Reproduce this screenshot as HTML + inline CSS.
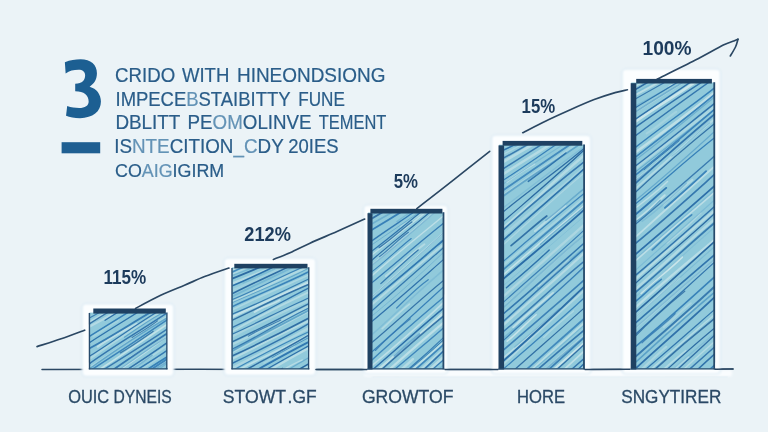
<!DOCTYPE html>
<html><head><meta charset="utf-8"><title>Chart</title>
<style>
html,body{margin:0;padding:0;background:#ebf3f7;}
body{width:768px;height:432px;overflow:hidden;position:relative;font-family:"Liberation Sans",sans-serif;}
svg{position:absolute;left:0;top:0;display:block}
text{font-family:"Liberation Sans",sans-serif;}
</style></head><body>
<svg width="768" height="432" viewBox="0 0 768 432">
<defs>
<filter id="soft" x="-5%" y="-5%" width="110%" height="110%"><feGaussianBlur stdDeviation="0.4"/></filter>
<filter id="halo" x="-20%" y="-20%" width="140%" height="140%"><feGaussianBlur stdDeviation="0.8"/></filter>
<filter id="tb" x="-5%" y="-20%" width="110%" height="140%"><feGaussianBlur stdDeviation="0.35"/></filter>

<clipPath id="c0"><rect x="89.9" y="313.1" width="76.8" height="55.3"/></clipPath>
<clipPath id="c1"><rect x="232.5" y="267.9" width="76.0" height="100.5"/></clipPath>
<clipPath id="c2"><rect x="372.2" y="213.0" width="71.3" height="155.4"/></clipPath>
<clipPath id="c3"><rect x="503.8" y="145.2" width="80.3" height="223.2"/></clipPath>
<clipPath id="c4"><rect x="636.0" y="83.0" width="78.3" height="285.4"/></clipPath>
</defs>
<rect width="768" height="432" fill="#ebf3f7"/>
<path d="M42 369.5 L200 369.3 L400 369.6 L600 369.4 L733 369.1" stroke="#2b4763" stroke-width="1.5" fill="none" stroke-linecap="round"/>
<rect x="364" y="370" width="368" height="6.5" rx="2" fill="#f9fcfe" filter="url(#halo)"/>
<path d="M372 377.3 L728 377" stroke="#d3e6f1" stroke-width="0.9" opacity="0.8" fill="none" filter="url(#halo)"/>
<rect x="82" y="303.8" width="92.0" height="72.7" rx="4" fill="#fcfeff" stroke="#d3e6f2" stroke-width="1.1" filter="url(#halo)"/>
<rect x="224" y="258" width="92.0" height="117.5" rx="4" fill="#fcfeff" stroke="#d3e6f2" stroke-width="1.1" filter="url(#halo)"/>
<rect x="363.5" y="205" width="84.5" height="169.0" rx="4" fill="#fcfeff" stroke="#d3e6f2" stroke-width="1.1" filter="url(#halo)"/>
<rect x="491.5" y="135" width="99.5" height="239.0" rx="4" fill="#fcfeff" stroke="#d3e6f2" stroke-width="1.1" filter="url(#halo)"/>
<rect x="622" y="69" width="98.5" height="305.0" rx="4" fill="#fcfeff" stroke="#d3e6f2" stroke-width="1.1" filter="url(#halo)"/>
<path d="M316 369.4 L367 369.5 M445 369.5 L498 369.4 M585 369.4 L630 369.3 M715 369.2 L733 369.1" stroke="#2b4763" stroke-width="1.5" fill="none" stroke-linecap="round"/>
<path d="M37.0 346.6 C41.0 345.3 53.3 341.5 61.2 338.8 C69.2 336.1 80.8 331.6 84.7 330.2" stroke="#2b4763" stroke-width="1.65" fill="none" stroke-linecap="round" filter="url(#tb)"/>
<path d="M135.5 308.4 C139.6 306.2 152.0 299.4 160.2 295.5 C168.4 291.6 177.1 288.3 184.5 285.2 C191.9 282.1 197.2 279.5 204.6 276.6 C212.0 273.7 224.9 269.4 229.0 268.0" stroke="#2b4763" stroke-width="1.65" fill="none" stroke-linecap="round" filter="url(#tb)"/>
<path d="M273.4 259.4 C276.2 258.3 283.9 255.5 290.0 252.8 C296.1 250.1 302.2 246.8 310.0 243.2 C317.8 239.6 327.9 235.5 337.0 231.5 C346.1 227.5 360.1 221.1 364.7 219.0" stroke="#2b4763" stroke-width="1.65" fill="none" stroke-linecap="round" filter="url(#tb)"/>
<path d="M416.8 208.6 C422.9 203.9 441.2 189.8 453.3 180.2 C465.4 170.6 483.6 156.1 489.7 151.3" stroke="#2b4763" stroke-width="1.65" fill="none" stroke-linecap="round" filter="url(#tb)"/>
<path d="M522.7 132.7 C526.5 130.8 537.5 125.0 545.4 121.2 C553.2 117.4 561.7 113.6 569.8 110.0 C577.9 106.4 586.7 102.5 594.2 99.6 C601.8 96.7 609.6 94.2 615.1 92.6 C620.6 91.0 625.4 90.3 627.4 89.8" stroke="#2b4763" stroke-width="1.65" fill="none" stroke-linecap="round" filter="url(#tb)"/>
<path d="M657.0 79.3 C663.4 76.1 684.4 65.8 695.4 60.1 C706.4 54.4 716.9 48.3 723.3 45.1 C729.7 41.9 731.3 42.0 733.8 41.0 C736.2 40.0 737.3 39.5 738.0 39.2" stroke="#2b4763" stroke-width="1.65" fill="none" stroke-linecap="round" filter="url(#tb)"/>
<path d="M738.0 39.2 C737.6 40.5 736.8 44.2 735.5 47.0 C734.2 49.8 731.2 54.5 730.3 56.0" stroke="#2b4763" stroke-width="1.65" fill="none" stroke-linecap="round" filter="url(#tb)"/>
<rect x="89.3" y="312.6" width="77.8" height="56.6" fill="#91cadb"/>
<g clip-path="url(#c0)" filter="url(#soft)">
<path d="M87.8 312.2 C114.5 296.7 141.9 281.5 168.6 265.6" stroke="#2b70aa" stroke-width="1.78" opacity="0.88" fill="none" stroke-linecap="round"/>
<path d="M87.8 322.9 C114.5 308.5 141.9 292.1 168.6 276.0" stroke="#c9e5ea" stroke-width="2.03" opacity="0.59" fill="none" stroke-linecap="round"/>
<path d="M87.8 319.1 C114.5 304.0 141.9 288.9 168.6 272.2" stroke="#2b70aa" stroke-width="1.15" opacity="0.86" fill="none" stroke-linecap="round"/>
<path d="M87.8 327.5 C114.5 313.7 141.9 297.4 168.6 279.3" stroke="#c9e5ea" stroke-width="2.13" opacity="0.61" fill="none" stroke-linecap="round"/>
<path d="M87.8 324.9 C114.5 307.2 141.9 293.9 168.6 276.8" stroke="#27669f" stroke-width="1.35" opacity="0.88" fill="none" stroke-linecap="round"/>
<path d="M105.1 320.3 C118.4 311.7 132.1 303.8 145.5 295.2" stroke="#2a6da8" stroke-width="1.27" opacity="0.99" fill="none" stroke-linecap="round"/>
<path d="M93.2 336.1 C101.4 332.3 110.0 324.4 118.2 320.7" stroke="#b4dae3" stroke-width="2.26" opacity="0.49" fill="none" stroke-linecap="round"/>
<path d="M87.8 337.4 C114.5 320.7 141.9 303.7 168.6 287.9" stroke="#3680b8" stroke-width="1.51" opacity="1.00" fill="none" stroke-linecap="round"/>
<path d="M87.8 343.8 C114.5 326.2 141.9 310.7 168.6 292.0" stroke="#2b70aa" stroke-width="1.34" opacity="0.98" fill="none" stroke-linecap="round"/>
<path d="M97.8 346.6 C110.6 337.0 123.8 330.9 136.5 324.0" stroke="#d8ecee" stroke-width="2.36" opacity="0.59" fill="none" stroke-linecap="round"/>
<path d="M87.8 349.2 C114.5 335.3 141.9 316.2 168.6 302.1" stroke="#2f76b0" stroke-width="1.87" opacity="0.92" fill="none" stroke-linecap="round"/>
<path d="M87.8 360.1 C114.5 341.0 141.9 323.1 168.6 307.8" stroke="#bfe0e6" stroke-width="2.16" opacity="0.59" fill="none" stroke-linecap="round"/>
<path d="M124.5 337.3 C137.0 328.4 149.8 319.5 162.2 312.9" stroke="#4f98c3" stroke-width="1.11" opacity="0.75" fill="none" stroke-linecap="round"/>
<path d="M87.8 357.3 C114.5 340.5 141.9 320.3 168.6 305.0" stroke="#2a6da8" stroke-width="1.20" opacity="0.92" fill="none" stroke-linecap="round"/>
<path d="M87.8 368.2 C114.5 351.1 141.9 331.2 168.6 315.3" stroke="#bfe0e6" stroke-width="1.28" opacity="0.51" fill="none" stroke-linecap="round"/>
<path d="M87.8 370.0 C114.5 350.9 141.9 332.5 168.6 317.1" stroke="#4f98c3" stroke-width="1.49" opacity="0.74" fill="none" stroke-linecap="round"/>
<path d="M87.8 364.8 C114.5 345.3 141.9 329.8 168.6 311.9" stroke="#2a6da8" stroke-width="1.48" opacity="0.90" fill="none" stroke-linecap="round"/>
<path d="M132.1 337.5 C140.5 332.2 149.1 327.4 157.5 320.8" stroke="#27669f" stroke-width="1.03" opacity="0.80" fill="none" stroke-linecap="round"/>
<path d="M87.8 376.7 C114.5 360.8 141.9 340.6 168.6 323.4" stroke="#d8ecee" stroke-width="1.69" opacity="0.69" fill="none" stroke-linecap="round"/>
<path d="M87.8 372.2 C114.5 355.0 141.9 336.9 168.6 318.8" stroke="#3680b8" stroke-width="1.56" opacity="0.94" fill="none" stroke-linecap="round"/>
<path d="M120.4 352.9 C131.2 346.8 142.4 338.8 153.2 331.3" stroke="#27669f" stroke-width="1.25" opacity="0.80" fill="none" stroke-linecap="round"/>
<path d="M130.3 357.1 C139.0 352.8 147.9 346.6 156.6 340.4" stroke="#c9e5ea" stroke-width="1.63" opacity="0.48" fill="none" stroke-linecap="round"/>
<path d="M87.8 379.5 C114.5 362.7 141.9 346.3 168.6 328.2" stroke="#2a6da8" stroke-width="1.39" opacity="0.87" fill="none" stroke-linecap="round"/>
<path d="M87.8 390.3 C114.5 374.1 141.9 355.4 168.6 335.7" stroke="#d8ecee" stroke-width="1.48" opacity="0.60" fill="none" stroke-linecap="round"/>
<path d="M87.8 390.8 C114.5 374.5 141.9 352.2 168.6 336.2" stroke="#4f98c3" stroke-width="1.09" opacity="0.55" fill="none" stroke-linecap="round"/>
<path d="M87.8 387.2 C114.5 368.9 141.9 349.6 168.6 332.5" stroke="#2a6da8" stroke-width="1.86" opacity="0.89" fill="none" stroke-linecap="round"/>
<path d="M87.8 396.9 C114.5 380.1 141.9 362.7 168.6 344.7" stroke="#b4dae3" stroke-width="1.65" opacity="0.74" fill="none" stroke-linecap="round"/>
<path d="M122.1 374.7 C132.0 369.6 142.2 363.1 152.1 355.4" stroke="#5ea4ca" stroke-width="1.48" opacity="0.64" fill="none" stroke-linecap="round"/>
<path d="M87.8 393.9 C114.5 378.0 141.9 360.9 168.6 341.7" stroke="#2a6da8" stroke-width="1.46" opacity="0.94" fill="none" stroke-linecap="round"/>
<path d="M122.5 380.8 C134.6 375.1 146.9 365.3 158.9 357.6" stroke="#b4dae3" stroke-width="1.95" opacity="0.46" fill="none" stroke-linecap="round"/>
<path d="M87.8 400.9 C114.5 382.1 141.9 368.3 168.6 349.4" stroke="#2f76b0" stroke-width="1.41" opacity="0.97" fill="none" stroke-linecap="round"/>
<path d="M87.8 412.0 C114.5 396.4 141.9 376.8 168.6 360.4" stroke="#b4dae3" stroke-width="1.97" opacity="0.68" fill="none" stroke-linecap="round"/>
<path d="M87.8 412.5 C114.5 396.5 141.9 376.7 168.6 361.0" stroke="#5ea4ca" stroke-width="1.55" opacity="0.79" fill="none" stroke-linecap="round"/>
<path d="M87.8 407.6 C114.5 391.9 141.9 372.3 168.6 356.0" stroke="#3680b8" stroke-width="1.88" opacity="1.00" fill="none" stroke-linecap="round"/>
<path d="M123.9 392.3 C132.2 387.8 140.7 379.1 149.0 374.8" stroke="#b4dae3" stroke-width="2.28" opacity="0.62" fill="none" stroke-linecap="round"/>
<path d="M87.8 418.4 C114.5 400.0 141.9 381.6 168.6 362.2" stroke="#6bafd0" stroke-width="1.32" opacity="0.85" fill="none" stroke-linecap="round"/>
<path d="M87.8 414.3 C114.5 393.9 141.9 375.4 168.6 358.1" stroke="#3680b8" stroke-width="1.86" opacity="0.92" fill="none" stroke-linecap="round"/>
<path d="M87.8 424.4 C114.5 408.5 141.9 387.3 168.6 370.9" stroke="#d8ecee" stroke-width="1.64" opacity="0.58" fill="none" stroke-linecap="round"/>
<path d="M87.8 420.6 C114.5 403.2 141.9 384.9 168.6 367.2" stroke="#2b70aa" stroke-width="1.52" opacity="0.94" fill="none" stroke-linecap="round"/>
<path d="M112.1 415.8 C123.2 410.7 134.5 403.2 145.6 394.2" stroke="#c9e5ea" stroke-width="1.89" opacity="0.69" fill="none" stroke-linecap="round"/>
<path d="M87.8 431.8 C114.5 416.4 141.9 396.9 168.6 379.5" stroke="#6bafd0" stroke-width="1.21" opacity="0.82" fill="none" stroke-linecap="round"/>
<path d="M87.8 428.0 C114.5 409.1 141.9 394.2 168.6 375.7" stroke="#2a6da8" stroke-width="1.25" opacity="0.94" fill="none" stroke-linecap="round"/>
<path d="M101.1 421.1 C114.6 411.3 128.4 403.5 141.9 394.8" stroke="#2f76b0" stroke-width="0.90" opacity="0.80" fill="none" stroke-linecap="round"/>
<path d="M116.2 416.6 C130.5 407.4 145.1 397.1 159.4 387.2" stroke="#2f76b0" stroke-width="1.66" opacity="0.98" fill="none" stroke-linecap="round"/>
<path d="M87.8 446.0 C114.5 429.6 141.9 408.2 168.6 390.9" stroke="#bfe0e6" stroke-width="1.53" opacity="0.71" fill="none" stroke-linecap="round"/>
<path d="M127.3 420.2 C136.2 412.4 145.3 407.5 154.1 401.9" stroke="#6bafd0" stroke-width="1.60" opacity="0.57" fill="none" stroke-linecap="round"/>
<path d="M87.8 442.9 C114.5 423.0 141.9 405.5 168.6 387.7" stroke="#3680b8" stroke-width="1.77" opacity="0.91" fill="none" stroke-linecap="round"/>
</g>
<path d="M89.4 313.1 L89.5 369.2" stroke="#274b6d" stroke-width="1.4" fill="none"/>
<rect x="93.3" y="308.5" width="72.5" height="5.1" fill="#1f4162"/>
<path d="M166.9 312.4 L166.8 369.2" stroke="#264a6c" stroke-width="1.3" fill="none"/>
<path d="M88.8 368.9 L167.6 368.9" stroke="#274b6d" stroke-width="1.4" fill="none"/>
<rect x="231.9" y="267.4" width="77.0" height="101.8" fill="#91cadb"/>
<g clip-path="url(#c1)" filter="url(#soft)">
<path d="M230.4 270.8 C256.8 260.1 284.0 249.8 310.4 238.3" stroke="#d8ecee" stroke-width="1.36" opacity="0.63" fill="none" stroke-linecap="round"/>
<path d="M230.4 268.5 C256.8 259.6 284.0 246.7 310.4 236.0" stroke="#5ea4ca" stroke-width="0.92" opacity="0.77" fill="none" stroke-linecap="round"/>
<path d="M230.4 266.8 C256.8 258.2 284.0 246.9 310.4 234.3" stroke="#2f76b0" stroke-width="1.25" opacity="0.88" fill="none" stroke-linecap="round"/>
<path d="M235.5 266.4 C246.3 261.7 257.4 256.9 268.1 253.2" stroke="#3680b8" stroke-width="0.93" opacity="0.80" fill="none" stroke-linecap="round"/>
<path d="M230.4 274.9 C256.8 263.3 284.0 250.8 310.4 241.0" stroke="#bfe0e6" stroke-width="1.45" opacity="0.61" fill="none" stroke-linecap="round"/>
<path d="M230.4 276.1 C256.8 266.6 284.0 255.2 310.4 242.2" stroke="#5ea4ca" stroke-width="1.19" opacity="0.53" fill="none" stroke-linecap="round"/>
<path d="M230.4 272.8 C256.8 261.0 284.0 251.3 310.4 239.0" stroke="#3680b8" stroke-width="1.56" opacity="0.88" fill="none" stroke-linecap="round"/>
<path d="M230.4 284.2 C256.8 274.2 284.0 262.7 310.4 250.4" stroke="#bfe0e6" stroke-width="2.46" opacity="0.76" fill="none" stroke-linecap="round"/>
<path d="M269.5 267.2 C283.0 263.3 296.9 253.7 310.4 250.0" stroke="#5ea4ca" stroke-width="1.62" opacity="0.61" fill="none" stroke-linecap="round"/>
<path d="M230.4 279.3 C256.8 268.8 284.0 256.9 310.4 245.5" stroke="#27669f" stroke-width="1.86" opacity="0.95" fill="none" stroke-linecap="round"/>
<path d="M230.4 291.3 C256.8 280.5 284.0 266.2 310.4 255.4" stroke="#b4dae3" stroke-width="2.57" opacity="0.46" fill="none" stroke-linecap="round"/>
<path d="M243.2 283.1 C253.6 278.6 264.2 273.3 274.6 269.0" stroke="#6bafd0" stroke-width="1.48" opacity="0.50" fill="none" stroke-linecap="round"/>
<path d="M230.4 286.6 C256.8 276.2 284.0 260.7 310.4 250.8" stroke="#2b70aa" stroke-width="1.55" opacity="1.00" fill="none" stroke-linecap="round"/>
<path d="M230.4 297.4 C256.8 284.4 284.0 271.6 310.4 258.9" stroke="#6bafd0" stroke-width="1.67" opacity="0.69" fill="none" stroke-linecap="round"/>
<path d="M230.4 294.7 C256.8 281.0 284.0 269.6 310.4 256.2" stroke="#27669f" stroke-width="1.52" opacity="0.94" fill="none" stroke-linecap="round"/>
<path d="M230.4 302.5 C256.8 291.3 284.0 276.2 310.4 266.2" stroke="#bfe0e6" stroke-width="2.02" opacity="0.67" fill="none" stroke-linecap="round"/>
<path d="M230.4 303.5 C256.8 291.5 284.0 281.3 310.4 267.3" stroke="#4f98c3" stroke-width="0.97" opacity="0.82" fill="none" stroke-linecap="round"/>
<path d="M230.4 300.3 C256.8 290.1 284.0 274.4 310.4 264.0" stroke="#2f76b0" stroke-width="1.14" opacity="0.86" fill="none" stroke-linecap="round"/>
<path d="M230.4 310.9 C256.8 297.2 284.0 286.2 310.4 274.4" stroke="#c9e5ea" stroke-width="1.49" opacity="0.47" fill="none" stroke-linecap="round"/>
<path d="M230.4 307.6 C256.8 294.9 284.0 284.1 310.4 271.0" stroke="#3680b8" stroke-width="1.58" opacity="0.95" fill="none" stroke-linecap="round"/>
<path d="M230.4 317.9 C256.8 304.8 284.0 294.3 310.4 281.4" stroke="#d8ecee" stroke-width="2.30" opacity="0.67" fill="none" stroke-linecap="round"/>
<path d="M230.4 314.8 C256.8 304.8 284.0 290.4 310.4 278.3" stroke="#2b70aa" stroke-width="1.25" opacity="0.89" fill="none" stroke-linecap="round"/>
<path d="M254.6 312.0 C262.9 306.3 271.5 304.9 279.7 300.3" stroke="#d8ecee" stroke-width="1.80" opacity="0.67" fill="none" stroke-linecap="round"/>
<path d="M230.4 321.1 C256.8 308.7 284.0 294.5 310.4 283.8" stroke="#27669f" stroke-width="1.49" opacity="0.90" fill="none" stroke-linecap="round"/>
<path d="M230.4 332.5 C256.8 317.4 284.0 303.4 310.4 291.3" stroke="#bfe0e6" stroke-width="1.82" opacity="0.71" fill="none" stroke-linecap="round"/>
<path d="M230.4 328.3 C256.8 316.6 284.0 300.4 310.4 287.1" stroke="#2b70aa" stroke-width="1.36" opacity="0.93" fill="none" stroke-linecap="round"/>
<path d="M230.4 337.4 C256.8 322.8 284.0 311.4 310.4 299.7" stroke="#b4dae3" stroke-width="2.34" opacity="0.61" fill="none" stroke-linecap="round"/>
<path d="M230.4 334.9 C256.8 323.3 284.0 308.7 310.4 297.2" stroke="#2b70aa" stroke-width="1.17" opacity="0.90" fill="none" stroke-linecap="round"/>
<path d="M230.4 345.1 C256.8 333.8 284.0 318.3 310.4 305.4" stroke="#b4dae3" stroke-width="2.00" opacity="0.77" fill="none" stroke-linecap="round"/>
<path d="M230.4 342.6 C256.8 330.5 284.0 316.1 310.4 302.9" stroke="#27669f" stroke-width="1.47" opacity="0.88" fill="none" stroke-linecap="round"/>
<path d="M248.4 336.1 C259.1 329.4 270.1 325.6 280.8 320.0" stroke="#2a6da8" stroke-width="1.05" opacity="0.80" fill="none" stroke-linecap="round"/>
<path d="M230.4 353.5 C256.8 340.8 284.0 323.7 310.4 310.8" stroke="#bfe0e6" stroke-width="1.33" opacity="0.61" fill="none" stroke-linecap="round"/>
<path d="M230.4 352.2 C256.8 336.2 284.0 323.8 310.4 309.5" stroke="#4f98c3" stroke-width="1.77" opacity="0.73" fill="none" stroke-linecap="round"/>
<path d="M230.4 350.0 C256.8 337.6 284.0 319.5 310.4 307.2" stroke="#2b70aa" stroke-width="1.17" opacity="0.86" fill="none" stroke-linecap="round"/>
<path d="M230.4 359.7 C256.8 346.5 284.0 332.5 310.4 320.2" stroke="#bfe0e6" stroke-width="1.88" opacity="0.77" fill="none" stroke-linecap="round"/>
<path d="M230.4 356.8 C256.8 344.7 284.0 331.2 310.4 317.2" stroke="#27669f" stroke-width="1.64" opacity="0.92" fill="none" stroke-linecap="round"/>
<path d="M230.4 369.0 C256.8 355.9 284.0 341.3 310.4 327.4" stroke="#b4dae3" stroke-width="2.37" opacity="0.76" fill="none" stroke-linecap="round"/>
<path d="M230.4 364.2 C256.8 351.5 284.0 338.5 310.4 322.6" stroke="#2a6da8" stroke-width="1.44" opacity="0.91" fill="none" stroke-linecap="round"/>
<path d="M230.4 374.2 C256.8 359.3 284.0 348.8 310.4 333.5" stroke="#c9e5ea" stroke-width="1.86" opacity="0.71" fill="none" stroke-linecap="round"/>
<path d="M230.4 371.7 C256.8 357.4 284.0 343.1 310.4 331.0" stroke="#3680b8" stroke-width="1.11" opacity="0.92" fill="none" stroke-linecap="round"/>
<path d="M263.9 363.0 C274.0 357.7 284.5 353.3 294.6 346.3" stroke="#b4dae3" stroke-width="1.46" opacity="0.55" fill="none" stroke-linecap="round"/>
<path d="M230.4 377.8 C256.8 364.1 284.0 349.8 310.4 334.2" stroke="#27669f" stroke-width="1.49" opacity="0.91" fill="none" stroke-linecap="round"/>
<path d="M272.0 357.6 C284.7 350.2 297.7 343.7 310.4 336.7" stroke="#3680b8" stroke-width="0.92" opacity="0.80" fill="none" stroke-linecap="round"/>
<path d="M230.4 384.8 C256.8 370.1 284.0 354.4 310.4 341.1" stroke="#2f76b0" stroke-width="1.81" opacity="0.98" fill="none" stroke-linecap="round"/>
<path d="M230.4 393.3 C256.8 378.3 284.0 360.9 310.4 347.2" stroke="#bfe0e6" stroke-width="2.09" opacity="0.80" fill="none" stroke-linecap="round"/>
<path d="M230.4 391.0 C256.8 374.1 284.0 359.4 310.4 344.9" stroke="#2a6da8" stroke-width="1.26" opacity="0.99" fill="none" stroke-linecap="round"/>
<path d="M260.7 383.2 C274.4 375.2 288.6 365.6 302.4 359.9" stroke="#d8ecee" stroke-width="1.23" opacity="0.52" fill="none" stroke-linecap="round"/>
<path d="M230.4 401.3 C256.8 388.8 284.0 372.2 310.4 356.7" stroke="#4f98c3" stroke-width="1.18" opacity="0.64" fill="none" stroke-linecap="round"/>
<path d="M248.3 387.5 C259.6 383.3 271.2 376.2 282.5 368.4" stroke="#2a6da8" stroke-width="1.39" opacity="0.95" fill="none" stroke-linecap="round"/>
<path d="M230.4 407.7 C256.8 395.1 284.0 378.1 310.4 365.4" stroke="#c9e5ea" stroke-width="1.84" opacity="0.45" fill="none" stroke-linecap="round"/>
<path d="M230.4 405.2 C256.8 393.2 284.0 378.0 310.4 362.9" stroke="#27669f" stroke-width="1.60" opacity="0.99" fill="none" stroke-linecap="round"/>
<path d="M230.4 413.7 C256.8 398.7 284.0 386.2 310.4 370.5" stroke="#d8ecee" stroke-width="2.52" opacity="0.65" fill="none" stroke-linecap="round"/>
<path d="M239.7 408.5 C247.7 404.1 255.9 400.7 263.9 395.5" stroke="#5ea4ca" stroke-width="1.02" opacity="0.72" fill="none" stroke-linecap="round"/>
<path d="M230.4 411.6 C256.8 397.0 284.0 380.8 310.4 368.5" stroke="#2a6da8" stroke-width="1.28" opacity="0.87" fill="none" stroke-linecap="round"/>
<path d="M230.4 421.8 C256.8 407.7 284.0 391.8 310.4 376.2" stroke="#b4dae3" stroke-width="1.88" opacity="0.77" fill="none" stroke-linecap="round"/>
<path d="M245.6 413.4 C256.0 408.1 266.6 399.7 277.0 395.5" stroke="#6bafd0" stroke-width="1.49" opacity="0.71" fill="none" stroke-linecap="round"/>
<path d="M230.4 417.6 C256.8 400.9 284.0 388.1 310.4 372.1" stroke="#3680b8" stroke-width="1.26" opacity="0.90" fill="none" stroke-linecap="round"/>
<path d="M230.4 427.8 C256.8 414.6 284.0 397.5 310.4 381.2" stroke="#bfe0e6" stroke-width="2.00" opacity="0.52" fill="none" stroke-linecap="round"/>
<path d="M230.4 424.4 C256.8 407.2 284.0 392.1 310.4 377.8" stroke="#2b70aa" stroke-width="1.86" opacity="0.94" fill="none" stroke-linecap="round"/>
<path d="M255.8 418.6 C267.8 409.6 280.1 406.1 292.0 397.2" stroke="#5ea4ca" stroke-width="1.31" opacity="0.76" fill="none" stroke-linecap="round"/>
<path d="M230.4 430.7 C256.8 415.5 284.0 397.2 310.4 383.2" stroke="#2f76b0" stroke-width="1.83" opacity="1.00" fill="none" stroke-linecap="round"/>
<path d="M232.8 439.7 C241.9 436.7 251.3 431.2 260.4 424.1" stroke="#bfe0e6" stroke-width="1.46" opacity="0.64" fill="none" stroke-linecap="round"/>
<path d="M230.4 437.0 C256.8 422.6 284.0 407.3 310.4 391.8" stroke="#27669f" stroke-width="1.70" opacity="0.98" fill="none" stroke-linecap="round"/>
</g>
<path d="M232.0 267.9 L232.1 369.2" stroke="#274b6d" stroke-width="1.4" fill="none"/>
<rect x="234.3" y="263.8" width="73.2" height="4.6" fill="#1f4162"/>
<path d="M308.8 267.2 L308.6 369.2" stroke="#264a6c" stroke-width="1.3" fill="none"/>
<path d="M231.4 368.9 L309.4 368.9" stroke="#274b6d" stroke-width="1.4" fill="none"/>
<rect x="368.0" y="212.5" width="75.9" height="156.7" fill="#91cadb"/>
<g clip-path="url(#c2)" filter="url(#soft)">
<path d="M366.5 216.9 C392.5 203.5 419.4 192.0 445.4 179.3" stroke="#c9e5ea" stroke-width="2.00" opacity="0.51" fill="none" stroke-linecap="round"/>
<path d="M366.5 217.5 C392.5 205.1 419.4 190.6 445.4 179.9" stroke="#5ea4ca" stroke-width="1.55" opacity="0.78" fill="none" stroke-linecap="round"/>
<path d="M366.5 212.0 C392.5 200.7 419.4 187.9 445.4 174.4" stroke="#27669f" stroke-width="1.43" opacity="0.94" fill="none" stroke-linecap="round"/>
<path d="M366.5 227.0 C392.5 211.6 419.4 198.1 445.4 181.2" stroke="#5ea4ca" stroke-width="1.71" opacity="0.68" fill="none" stroke-linecap="round"/>
<path d="M366.5 221.7 C392.5 206.3 419.4 190.5 445.4 175.9" stroke="#27669f" stroke-width="1.83" opacity="0.89" fill="none" stroke-linecap="round"/>
<path d="M396.9 221.6 C408.5 213.0 420.5 205.7 432.1 199.2" stroke="#6bafd0" stroke-width="1.35" opacity="0.64" fill="none" stroke-linecap="round"/>
<path d="M366.5 233.1 C392.5 217.6 419.4 201.2 445.4 183.0" stroke="#3680b8" stroke-width="1.85" opacity="0.98" fill="none" stroke-linecap="round"/>
<path d="M401.0 226.7 C409.6 221.0 418.4 216.7 426.9 208.8" stroke="#b4dae3" stroke-width="1.99" opacity="0.77" fill="none" stroke-linecap="round"/>
<path d="M366.5 248.5 C392.5 230.4 419.4 212.3 445.4 194.2" stroke="#4f98c3" stroke-width="0.92" opacity="0.56" fill="none" stroke-linecap="round"/>
<path d="M368.8 243.1 C383.3 232.3 398.2 222.9 412.6 213.0" stroke="#2f76b0" stroke-width="1.39" opacity="0.94" fill="none" stroke-linecap="round"/>
<path d="M366.5 259.2 C392.5 238.7 419.4 216.5 445.4 197.5" stroke="#c9e5ea" stroke-width="1.47" opacity="0.74" fill="none" stroke-linecap="round"/>
<path d="M366.5 255.1 C392.5 236.4 419.4 211.8 445.4 193.4" stroke="#2b70aa" stroke-width="1.26" opacity="0.94" fill="none" stroke-linecap="round"/>
<path d="M379.1 247.6 C389.9 240.8 401.0 229.7 411.9 222.0" stroke="#27669f" stroke-width="1.28" opacity="0.80" fill="none" stroke-linecap="round"/>
<path d="M366.5 269.1 C392.5 248.2 419.4 224.7 445.4 202.8" stroke="#d8ecee" stroke-width="1.37" opacity="0.69" fill="none" stroke-linecap="round"/>
<path d="M366.5 269.3 C392.5 249.3 419.4 225.6 445.4 203.0" stroke="#5ea4ca" stroke-width="1.43" opacity="0.58" fill="none" stroke-linecap="round"/>
<path d="M366.5 265.0 C392.5 241.3 419.4 222.4 445.4 198.7" stroke="#27669f" stroke-width="1.21" opacity="0.95" fill="none" stroke-linecap="round"/>
<path d="M379.5 256.6 C389.1 249.9 398.9 238.5 408.4 232.3" stroke="#2a6da8" stroke-width="1.14" opacity="0.80" fill="none" stroke-linecap="round"/>
<path d="M366.5 280.7 C392.5 256.7 419.4 236.0 445.4 214.2" stroke="#c9e5ea" stroke-width="1.46" opacity="0.76" fill="none" stroke-linecap="round"/>
<path d="M370.2 273.0 C383.7 263.4 397.7 249.1 411.2 238.5" stroke="#3680b8" stroke-width="1.10" opacity="0.98" fill="none" stroke-linecap="round"/>
<path d="M385.9 276.1 C398.6 265.8 411.7 253.7 424.4 244.3" stroke="#bfe0e6" stroke-width="2.03" opacity="0.72" fill="none" stroke-linecap="round"/>
<path d="M366.5 287.1 C392.5 266.0 419.4 242.3 445.4 221.8" stroke="#2f76b0" stroke-width="1.31" opacity="0.93" fill="none" stroke-linecap="round"/>
<path d="M366.5 301.7 C392.5 278.1 419.4 254.1 445.4 231.0" stroke="#d8ecee" stroke-width="1.41" opacity="0.46" fill="none" stroke-linecap="round"/>
<path d="M366.5 301.7 C392.5 278.7 419.4 255.3 445.4 231.0" stroke="#5ea4ca" stroke-width="1.00" opacity="0.56" fill="none" stroke-linecap="round"/>
<path d="M380.8 283.6 C393.1 272.6 405.9 260.1 418.2 250.0" stroke="#2b70aa" stroke-width="1.22" opacity="0.90" fill="none" stroke-linecap="round"/>
<path d="M366.5 309.1 C392.5 287.1 419.4 264.0 445.4 243.0" stroke="#bfe0e6" stroke-width="1.90" opacity="0.68" fill="none" stroke-linecap="round"/>
<path d="M366.5 304.5 C392.5 283.9 419.4 260.7 445.4 238.5" stroke="#2f76b0" stroke-width="1.66" opacity="0.99" fill="none" stroke-linecap="round"/>
<path d="M366.5 320.4 C392.5 299.3 419.4 275.7 445.4 250.5" stroke="#6bafd0" stroke-width="0.98" opacity="0.69" fill="none" stroke-linecap="round"/>
<path d="M366.5 315.9 C392.5 291.7 419.4 268.8 445.4 245.9" stroke="#2b70aa" stroke-width="1.28" opacity="0.89" fill="none" stroke-linecap="round"/>
<path d="M366.5 325.9 C392.5 304.5 419.4 280.6 445.4 257.9" stroke="#2a6da8" stroke-width="1.23" opacity="0.94" fill="none" stroke-linecap="round"/>
<path d="M382.2 328.7 C391.2 320.8 400.5 310.7 409.5 304.1" stroke="#bfe0e6" stroke-width="1.73" opacity="0.72" fill="none" stroke-linecap="round"/>
<path d="M366.5 339.5 C392.5 316.6 419.4 290.4 445.4 268.4" stroke="#78b8d4" stroke-width="1.58" opacity="0.67" fill="none" stroke-linecap="round"/>
<path d="M396.7 308.0 C407.1 297.7 417.8 286.9 428.2 279.7" stroke="#3680b8" stroke-width="1.26" opacity="0.91" fill="none" stroke-linecap="round"/>
<path d="M366.5 347.0 C392.5 325.8 419.4 299.8 445.4 279.0" stroke="#27669f" stroke-width="1.18" opacity="0.86" fill="none" stroke-linecap="round"/>
<path d="M366.5 356.6 C392.5 334.2 419.4 308.9 445.4 285.2" stroke="#3680b8" stroke-width="1.17" opacity="0.98" fill="none" stroke-linecap="round"/>
<path d="M375.4 350.5 C387.0 338.4 398.8 328.0 410.4 318.9" stroke="#2f76b0" stroke-width="1.10" opacity="0.80" fill="none" stroke-linecap="round"/>
<path d="M366.5 370.1 C392.5 348.9 419.4 325.2 445.4 300.9" stroke="#d8ecee" stroke-width="1.64" opacity="0.61" fill="none" stroke-linecap="round"/>
<path d="M366.5 365.0 C392.5 341.0 419.4 317.8 445.4 295.8" stroke="#3680b8" stroke-width="1.42" opacity="0.91" fill="none" stroke-linecap="round"/>
<path d="M366.5 379.4 C392.5 357.6 419.4 335.5 445.4 311.1" stroke="#c9e5ea" stroke-width="2.33" opacity="0.79" fill="none" stroke-linecap="round"/>
<path d="M394.3 355.8 C402.5 348.2 411.1 340.7 419.4 334.0" stroke="#5ea4ca" stroke-width="1.76" opacity="0.80" fill="none" stroke-linecap="round"/>
<path d="M366.5 374.9 C392.5 353.3 419.4 327.9 445.4 306.6" stroke="#2a6da8" stroke-width="1.49" opacity="0.99" fill="none" stroke-linecap="round"/>
<path d="M366.5 389.6 C392.5 366.9 419.4 342.7 445.4 321.1" stroke="#c9e5ea" stroke-width="2.24" opacity="0.77" fill="none" stroke-linecap="round"/>
<path d="M366.5 383.1 C392.5 359.9 419.4 335.3 445.4 314.7" stroke="#27669f" stroke-width="1.66" opacity="0.85" fill="none" stroke-linecap="round"/>
<path d="M381.2 386.4 C391.6 376.5 402.4 369.5 412.9 359.1" stroke="#d8ecee" stroke-width="2.44" opacity="0.48" fill="none" stroke-linecap="round"/>
<path d="M366.5 394.2 C392.5 369.7 419.4 349.6 445.4 326.3" stroke="#3680b8" stroke-width="1.41" opacity="0.90" fill="none" stroke-linecap="round"/>
<path d="M366.5 408.6 C392.5 385.6 419.4 364.7 445.4 340.4" stroke="#c9e5ea" stroke-width="1.59" opacity="0.74" fill="none" stroke-linecap="round"/>
<path d="M366.5 406.8 C392.5 382.7 419.4 359.7 445.4 338.5" stroke="#4f98c3" stroke-width="1.18" opacity="0.63" fill="none" stroke-linecap="round"/>
<path d="M366.5 404.2 C392.5 383.5 419.4 360.6 445.4 335.9" stroke="#2f76b0" stroke-width="1.31" opacity="0.88" fill="none" stroke-linecap="round"/>
<path d="M402.3 375.3 C416.5 363.9 431.2 351.7 445.4 338.1" stroke="#2b70aa" stroke-width="0.93" opacity="0.80" fill="none" stroke-linecap="round"/>
<path d="M366.5 417.6 C392.5 396.1 419.4 369.6 445.4 348.1" stroke="#bfe0e6" stroke-width="2.17" opacity="0.69" fill="none" stroke-linecap="round"/>
<path d="M366.5 412.4 C392.5 388.9 419.4 366.6 445.4 342.9" stroke="#3680b8" stroke-width="1.74" opacity="0.89" fill="none" stroke-linecap="round"/>
<path d="M366.5 427.1 C392.5 405.1 419.4 378.2 445.4 355.4" stroke="#bfe0e6" stroke-width="2.43" opacity="0.80" fill="none" stroke-linecap="round"/>
<path d="M366.5 420.8 C392.5 398.7 419.4 374.4 445.4 349.1" stroke="#2b70aa" stroke-width="1.72" opacity="0.92" fill="none" stroke-linecap="round"/>
<path d="M396.8 395.1 C406.4 387.0 416.2 376.9 425.8 368.8" stroke="#2b70aa" stroke-width="1.20" opacity="0.80" fill="none" stroke-linecap="round"/>
<path d="M366.5 434.9 C392.5 411.7 419.4 388.1 445.4 362.9" stroke="#6bafd0" stroke-width="1.41" opacity="0.65" fill="none" stroke-linecap="round"/>
<path d="M366.5 430.3 C392.5 405.3 419.4 380.6 445.4 358.2" stroke="#2f76b0" stroke-width="1.20" opacity="0.91" fill="none" stroke-linecap="round"/>
<path d="M379.0 421.1 C388.5 413.1 398.3 402.9 407.8 394.7" stroke="#2f76b0" stroke-width="1.01" opacity="0.80" fill="none" stroke-linecap="round"/>
<path d="M366.5 445.0 C392.5 422.5 419.4 396.3 445.4 373.0" stroke="#c9e5ea" stroke-width="1.47" opacity="0.57" fill="none" stroke-linecap="round"/>
<path d="M386.1 421.1 C400.3 408.8 415.0 393.6 429.2 381.8" stroke="#2b70aa" stroke-width="1.78" opacity="0.88" fill="none" stroke-linecap="round"/>
</g>
<rect x="367.5" y="213.2" width="5.0" height="156.3" fill="#1f4162"/>
<rect x="370.4" y="208.8" width="72.0" height="4.7" fill="#1f4162"/>
<path d="M443.5 212.3 L443.4 369.2" stroke="#264a6c" stroke-width="1.8" fill="none"/>
<path d="M367.5 368.9 L444.4 368.9" stroke="#274b6d" stroke-width="1.4" fill="none"/>
<rect x="499.0" y="144.7" width="85.5" height="224.5" fill="#91cadb"/>
<g clip-path="url(#c3)" filter="url(#soft)">
<path d="M506.8 144.5 C516.3 141.7 526.1 133.9 535.6 130.3" stroke="#bfe0e6" stroke-width="1.96" opacity="0.73" fill="none" stroke-linecap="round"/>
<path d="M497.5 144.2 C526.7 130.1 556.8 113.9 586.0 100.5" stroke="#2a6da8" stroke-width="1.22" opacity="0.98" fill="none" stroke-linecap="round"/>
<path d="M497.5 157.1 C526.7 142.8 556.8 124.3 586.0 111.4" stroke="#c9e5ea" stroke-width="1.41" opacity="0.45" fill="none" stroke-linecap="round"/>
<path d="M515.2 146.3 C528.6 139.6 542.3 131.0 555.7 125.4" stroke="#6bafd0" stroke-width="1.79" opacity="0.64" fill="none" stroke-linecap="round"/>
<path d="M497.5 152.8 C526.7 139.6 556.8 123.7 586.0 107.0" stroke="#2b70aa" stroke-width="1.63" opacity="0.94" fill="none" stroke-linecap="round"/>
<path d="M497.5 165.4 C526.7 147.9 556.8 129.9 586.0 115.5" stroke="#c9e5ea" stroke-width="2.52" opacity="0.64" fill="none" stroke-linecap="round"/>
<path d="M497.5 161.2 C526.7 146.7 556.8 125.6 586.0 111.3" stroke="#2a6da8" stroke-width="1.51" opacity="0.85" fill="none" stroke-linecap="round"/>
<path d="M497.5 177.7 C526.7 158.6 556.8 141.5 586.0 121.1" stroke="#c9e5ea" stroke-width="2.51" opacity="0.62" fill="none" stroke-linecap="round"/>
<path d="M497.5 172.6 C526.7 153.3 556.8 135.3 586.0 116.0" stroke="#2a6da8" stroke-width="1.56" opacity="0.88" fill="none" stroke-linecap="round"/>
<path d="M507.1 181.8 C516.0 174.3 525.3 169.0 534.2 163.9" stroke="#d8ecee" stroke-width="2.03" opacity="0.54" fill="none" stroke-linecap="round"/>
<path d="M497.5 188.2 C526.7 166.8 556.8 149.2 586.0 130.0" stroke="#6bafd0" stroke-width="1.03" opacity="0.62" fill="none" stroke-linecap="round"/>
<path d="M497.5 183.8 C526.7 165.7 556.8 142.6 586.0 125.5" stroke="#3680b8" stroke-width="1.18" opacity="0.99" fill="none" stroke-linecap="round"/>
<path d="M497.5 198.8 C526.7 179.7 556.8 156.8 586.0 138.2" stroke="#b4dae3" stroke-width="2.55" opacity="0.53" fill="none" stroke-linecap="round"/>
<path d="M497.5 200.4 C526.7 178.3 556.8 160.8 586.0 139.8" stroke="#4f98c3" stroke-width="1.69" opacity="0.77" fill="none" stroke-linecap="round"/>
<path d="M497.5 194.3 C526.7 173.7 556.8 153.5 586.0 133.7" stroke="#3680b8" stroke-width="1.83" opacity="0.86" fill="none" stroke-linecap="round"/>
<path d="M497.5 212.1 C526.7 190.0 556.8 166.7 586.0 145.2" stroke="#78b8d4" stroke-width="1.29" opacity="0.66" fill="none" stroke-linecap="round"/>
<path d="M528.3 181.4 C540.7 172.5 553.5 162.8 565.9 153.0" stroke="#2b70aa" stroke-width="1.56" opacity="0.93" fill="none" stroke-linecap="round"/>
<path d="M497.5 216.7 C526.7 191.6 556.8 171.9 586.0 146.7" stroke="#27669f" stroke-width="1.25" opacity="0.92" fill="none" stroke-linecap="round"/>
<path d="M497.5 232.3 C526.7 208.6 556.8 177.9 586.0 154.0" stroke="#bfe0e6" stroke-width="2.36" opacity="0.73" fill="none" stroke-linecap="round"/>
<path d="M497.5 226.6 C526.7 201.0 556.8 175.8 586.0 148.3" stroke="#27669f" stroke-width="1.30" opacity="0.97" fill="none" stroke-linecap="round"/>
<path d="M497.5 240.6 C526.7 214.0 556.8 192.2 586.0 165.9" stroke="#b4dae3" stroke-width="2.43" opacity="0.48" fill="none" stroke-linecap="round"/>
<path d="M497.5 235.0 C526.7 208.7 556.8 183.0 586.0 160.4" stroke="#2a6da8" stroke-width="1.74" opacity="0.87" fill="none" stroke-linecap="round"/>
<path d="M497.5 249.9 C526.7 223.9 556.8 195.5 586.0 171.4" stroke="#b4dae3" stroke-width="1.24" opacity="0.69" fill="none" stroke-linecap="round"/>
<path d="M497.5 245.7 C526.7 218.4 556.8 193.8 586.0 167.2" stroke="#2b70aa" stroke-width="1.60" opacity="0.98" fill="none" stroke-linecap="round"/>
<path d="M535.0 231.0 C545.0 223.1 555.3 212.1 565.4 205.8" stroke="#d8ecee" stroke-width="2.12" opacity="0.52" fill="none" stroke-linecap="round"/>
<path d="M545.8 220.4 C559.1 210.5 572.7 197.5 586.0 187.1" stroke="#4f98c3" stroke-width="1.45" opacity="0.63" fill="none" stroke-linecap="round"/>
<path d="M511.1 245.6 C522.9 236.4 535.0 224.8 546.8 216.0" stroke="#27669f" stroke-width="1.72" opacity="0.88" fill="none" stroke-linecap="round"/>
<path d="M497.5 270.2 C526.7 244.8 556.8 222.0 586.0 196.0" stroke="#b4dae3" stroke-width="2.01" opacity="0.55" fill="none" stroke-linecap="round"/>
<path d="M497.5 266.3 C526.7 241.4 556.8 215.3 586.0 192.1" stroke="#3680b8" stroke-width="1.28" opacity="0.92" fill="none" stroke-linecap="round"/>
<path d="M497.5 280.0 C526.7 253.8 556.8 228.7 586.0 204.1" stroke="#d8ecee" stroke-width="1.61" opacity="0.69" fill="none" stroke-linecap="round"/>
<path d="M540.4 244.4 C555.4 229.8 570.9 218.9 586.0 205.3" stroke="#4f98c3" stroke-width="1.25" opacity="0.60" fill="none" stroke-linecap="round"/>
<path d="M497.5 274.7 C526.7 249.1 556.8 224.8 586.0 198.8" stroke="#3680b8" stroke-width="1.82" opacity="0.86" fill="none" stroke-linecap="round"/>
<path d="M497.5 290.6 C526.7 265.5 556.8 240.4 586.0 214.7" stroke="#78b8d4" stroke-width="0.97" opacity="0.56" fill="none" stroke-linecap="round"/>
<path d="M497.5 284.0 C526.7 258.5 556.8 234.6 586.0 208.1" stroke="#2a6da8" stroke-width="1.88" opacity="1.00" fill="none" stroke-linecap="round"/>
<path d="M497.5 301.5 C526.7 276.0 556.8 249.0 586.0 223.1" stroke="#b4dae3" stroke-width="2.31" opacity="0.78" fill="none" stroke-linecap="round"/>
<path d="M506.4 287.7 C520.6 275.8 535.1 263.4 549.2 249.9" stroke="#2b70aa" stroke-width="1.42" opacity="0.96" fill="none" stroke-linecap="round"/>
<path d="M497.5 311.5 C526.7 286.8 556.8 260.0 586.0 232.2" stroke="#b4dae3" stroke-width="1.42" opacity="0.58" fill="none" stroke-linecap="round"/>
<path d="M497.5 312.6 C526.7 286.8 556.8 257.6 586.0 233.4" stroke="#5ea4ca" stroke-width="1.60" opacity="0.53" fill="none" stroke-linecap="round"/>
<path d="M497.5 307.7 C526.7 280.6 556.8 255.8 586.0 228.4" stroke="#2f76b0" stroke-width="1.20" opacity="0.86" fill="none" stroke-linecap="round"/>
<path d="M538.9 286.4 C548.8 279.9 559.0 269.1 568.9 260.4" stroke="#c9e5ea" stroke-width="1.84" opacity="0.75" fill="none" stroke-linecap="round"/>
<path d="M537.4 288.4 C552.3 276.4 567.6 260.6 582.4 249.2" stroke="#5ea4ca" stroke-width="1.27" opacity="0.50" fill="none" stroke-linecap="round"/>
<path d="M497.5 318.6 C526.7 295.0 556.8 267.1 586.0 241.5" stroke="#2b70aa" stroke-width="1.59" opacity="0.91" fill="none" stroke-linecap="round"/>
<path d="M497.5 330.5 C526.7 303.0 556.8 279.5 586.0 251.1" stroke="#c9e5ea" stroke-width="2.12" opacity="0.60" fill="none" stroke-linecap="round"/>
<path d="M497.5 326.8 C526.7 300.1 556.8 272.7 586.0 247.4" stroke="#2f76b0" stroke-width="1.55" opacity="0.93" fill="none" stroke-linecap="round"/>
<path d="M513.3 327.3 C526.4 314.5 539.9 303.8 553.0 293.0" stroke="#d8ecee" stroke-width="2.11" opacity="0.57" fill="none" stroke-linecap="round"/>
<path d="M497.5 342.6 C526.7 319.3 556.8 291.5 586.0 266.2" stroke="#5ea4ca" stroke-width="1.54" opacity="0.51" fill="none" stroke-linecap="round"/>
<path d="M497.5 336.3 C526.7 313.2 556.8 283.0 586.0 259.9" stroke="#2b70aa" stroke-width="1.49" opacity="0.85" fill="none" stroke-linecap="round"/>
<path d="M507.2 341.2 C516.8 333.6 526.7 322.7 536.2 314.7" stroke="#d8ecee" stroke-width="1.49" opacity="0.72" fill="none" stroke-linecap="round"/>
<path d="M497.5 345.9 C526.7 318.8 556.8 293.2 586.0 264.9" stroke="#2f76b0" stroke-width="1.30" opacity="0.89" fill="none" stroke-linecap="round"/>
<path d="M497.5 362.7 C526.7 338.6 556.8 311.8 586.0 285.8" stroke="#d8ecee" stroke-width="1.66" opacity="0.56" fill="none" stroke-linecap="round"/>
<path d="M514.7 347.1 C529.4 334.8 544.5 322.0 559.3 308.4" stroke="#5ea4ca" stroke-width="1.26" opacity="0.53" fill="none" stroke-linecap="round"/>
<path d="M497.5 355.3 C526.7 329.5 556.8 304.5 586.0 278.4" stroke="#2f76b0" stroke-width="1.56" opacity="0.85" fill="none" stroke-linecap="round"/>
<path d="M497.5 370.0 C526.7 341.6 556.8 314.9 586.0 289.0" stroke="#bfe0e6" stroke-width="1.73" opacity="0.61" fill="none" stroke-linecap="round"/>
<path d="M497.5 366.0 C526.7 340.8 556.8 312.7 586.0 285.0" stroke="#2a6da8" stroke-width="1.77" opacity="0.99" fill="none" stroke-linecap="round"/>
<path d="M543.6 337.4 C553.5 327.7 563.7 319.3 573.5 311.0" stroke="#bfe0e6" stroke-width="1.34" opacity="0.56" fill="none" stroke-linecap="round"/>
<path d="M497.5 374.3 C526.7 348.3 556.8 323.4 586.0 296.3" stroke="#3680b8" stroke-width="1.26" opacity="0.96" fill="none" stroke-linecap="round"/>
<path d="M497.5 385.1 C526.7 358.4 556.8 332.8 586.0 306.4" stroke="#27669f" stroke-width="1.26" opacity="0.90" fill="none" stroke-linecap="round"/>
<path d="M497.5 399.8 C526.7 374.9 556.8 346.2 586.0 321.5" stroke="#bfe0e6" stroke-width="1.87" opacity="0.79" fill="none" stroke-linecap="round"/>
<path d="M497.5 401.6 C526.7 375.2 556.8 350.1 586.0 323.3" stroke="#5ea4ca" stroke-width="1.13" opacity="0.52" fill="none" stroke-linecap="round"/>
<path d="M497.5 395.3 C526.7 369.0 556.8 342.9 586.0 317.0" stroke="#3680b8" stroke-width="1.83" opacity="0.86" fill="none" stroke-linecap="round"/>
<path d="M497.5 410.5 C526.7 385.4 556.8 358.3 586.0 333.7" stroke="#bfe0e6" stroke-width="1.25" opacity="0.69" fill="none" stroke-linecap="round"/>
<path d="M497.5 411.9 C526.7 385.3 556.8 359.1 586.0 335.1" stroke="#4f98c3" stroke-width="1.63" opacity="0.53" fill="none" stroke-linecap="round"/>
<path d="M497.5 405.5 C526.7 378.8 556.8 352.6 586.0 328.7" stroke="#2b70aa" stroke-width="1.69" opacity="0.90" fill="none" stroke-linecap="round"/>
<path d="M497.5 420.0 C526.7 392.4 556.8 366.8 586.0 341.5" stroke="#d8ecee" stroke-width="2.05" opacity="0.74" fill="none" stroke-linecap="round"/>
<path d="M502.1 416.7 C510.9 410.2 520.0 402.8 528.8 393.0" stroke="#4f98c3" stroke-width="1.16" opacity="0.70" fill="none" stroke-linecap="round"/>
<path d="M497.5 414.3 C526.7 390.0 556.8 362.2 586.0 335.8" stroke="#2f76b0" stroke-width="1.80" opacity="0.87" fill="none" stroke-linecap="round"/>
<path d="M497.5 430.4 C526.7 404.4 556.8 376.3 586.0 349.4" stroke="#d8ecee" stroke-width="1.63" opacity="0.60" fill="none" stroke-linecap="round"/>
<path d="M497.5 423.6 C526.7 395.9 556.8 370.4 586.0 342.7" stroke="#27669f" stroke-width="1.38" opacity="0.88" fill="none" stroke-linecap="round"/>
<path d="M497.5 440.6 C526.7 417.2 556.8 387.6 586.0 363.5" stroke="#c9e5ea" stroke-width="1.62" opacity="0.45" fill="none" stroke-linecap="round"/>
<path d="M499.9 436.0 C513.4 426.4 527.2 413.0 540.7 400.5" stroke="#6bafd0" stroke-width="0.96" opacity="0.73" fill="none" stroke-linecap="round"/>
<path d="M497.5 433.7 C526.7 406.5 556.8 383.0 586.0 356.7" stroke="#2b70aa" stroke-width="1.53" opacity="0.92" fill="none" stroke-linecap="round"/>
<path d="M497.5 448.1 C526.7 423.0 556.8 393.2 586.0 365.8" stroke="#bfe0e6" stroke-width="1.31" opacity="0.62" fill="none" stroke-linecap="round"/>
<path d="M524.2 423.7 C540.3 407.3 556.8 393.1 572.8 378.5" stroke="#4f98c3" stroke-width="1.10" opacity="0.60" fill="none" stroke-linecap="round"/>
<path d="M497.5 444.0 C526.7 417.1 556.8 390.6 586.0 361.7" stroke="#2a6da8" stroke-width="1.59" opacity="0.97" fill="none" stroke-linecap="round"/>
</g>
<rect x="498.5" y="145.4" width="5.6" height="224.1" fill="#1f4162"/>
<rect x="502.6" y="140.9" width="79.7" height="4.8" fill="#1f4162"/>
<path d="M584.1 144.5 L584.0 369.2" stroke="#264a6c" stroke-width="1.8" fill="none"/>
<path d="M498.5 368.9 L585.0 368.9" stroke="#274b6d" stroke-width="1.4" fill="none"/>
<rect x="631.2" y="82.5" width="83.5" height="286.7" fill="#91cadb"/>
<g clip-path="url(#c4)" filter="url(#soft)">
<path d="M629.7 89.3 C658.2 73.6 687.7 59.6 716.2 48.1" stroke="#c9e5ea" stroke-width="1.36" opacity="0.75" fill="none" stroke-linecap="round"/>
<path d="M629.7 82.0 C658.2 69.7 687.7 52.1 716.2 40.7" stroke="#2b70aa" stroke-width="1.52" opacity="0.94" fill="none" stroke-linecap="round"/>
<path d="M649.6 74.9 C660.8 68.9 672.3 61.9 683.5 58.7" stroke="#3680b8" stroke-width="1.23" opacity="0.80" fill="none" stroke-linecap="round"/>
<path d="M629.7 97.7 C658.2 83.9 687.7 65.4 716.2 50.0" stroke="#d8ecee" stroke-width="1.93" opacity="0.57" fill="none" stroke-linecap="round"/>
<path d="M629.7 96.3 C658.2 79.4 687.7 65.0 716.2 48.6" stroke="#78b8d4" stroke-width="1.33" opacity="0.77" fill="none" stroke-linecap="round"/>
<path d="M629.7 93.1 C658.2 75.3 687.7 60.3 716.2 45.3" stroke="#27669f" stroke-width="1.58" opacity="0.94" fill="none" stroke-linecap="round"/>
<path d="M667.4 74.4 C680.3 65.4 693.6 61.1 706.5 52.8" stroke="#2f76b0" stroke-width="1.17" opacity="0.80" fill="none" stroke-linecap="round"/>
<path d="M669.5 86.5 C684.9 77.7 700.8 70.1 716.2 60.9" stroke="#d8ecee" stroke-width="2.14" opacity="0.47" fill="none" stroke-linecap="round"/>
<path d="M629.7 108.8 C658.2 94.2 687.7 76.9 716.2 61.3" stroke="#6bafd0" stroke-width="1.24" opacity="0.60" fill="none" stroke-linecap="round"/>
<path d="M629.7 102.2 C658.2 86.2 687.7 68.8 716.2 54.7" stroke="#2a6da8" stroke-width="1.14" opacity="0.85" fill="none" stroke-linecap="round"/>
<path d="M674.0 79.6 C685.2 75.3 696.8 65.5 708.0 60.9" stroke="#3680b8" stroke-width="1.28" opacity="0.80" fill="none" stroke-linecap="round"/>
<path d="M629.7 115.3 C658.2 97.5 687.7 79.1 716.2 62.1" stroke="#bfe0e6" stroke-width="2.44" opacity="0.70" fill="none" stroke-linecap="round"/>
<path d="M629.7 115.7 C658.2 96.5 687.7 79.3 716.2 62.5" stroke="#5ea4ca" stroke-width="1.79" opacity="0.75" fill="none" stroke-linecap="round"/>
<path d="M629.7 111.1 C658.2 93.9 687.7 76.6 716.2 57.9" stroke="#2b70aa" stroke-width="1.20" opacity="0.93" fill="none" stroke-linecap="round"/>
<path d="M629.7 125.7 C658.2 105.1 687.7 88.7 716.2 67.4" stroke="#d8ecee" stroke-width="2.57" opacity="0.78" fill="none" stroke-linecap="round"/>
<path d="M629.7 123.0 C658.2 103.5 687.7 84.3 716.2 64.6" stroke="#2a6da8" stroke-width="1.34" opacity="0.97" fill="none" stroke-linecap="round"/>
<path d="M629.7 131.3 C658.2 111.1 687.7 90.4 716.2 73.2" stroke="#2a6da8" stroke-width="1.45" opacity="0.94" fill="none" stroke-linecap="round"/>
<path d="M646.6 133.3 C656.4 128.3 666.4 118.2 676.2 111.8" stroke="#b4dae3" stroke-width="2.06" opacity="0.47" fill="none" stroke-linecap="round"/>
<path d="M629.7 140.1 C658.2 118.5 687.7 97.2 716.2 77.0" stroke="#2b70aa" stroke-width="1.40" opacity="0.92" fill="none" stroke-linecap="round"/>
<path d="M629.7 156.7 C658.2 135.6 687.7 114.6 716.2 91.3" stroke="#d8ecee" stroke-width="2.53" opacity="0.62" fill="none" stroke-linecap="round"/>
<path d="M629.7 152.0 C658.2 128.9 687.7 109.1 716.2 86.6" stroke="#3680b8" stroke-width="1.51" opacity="1.00" fill="none" stroke-linecap="round"/>
<path d="M629.7 164.2 C658.2 143.5 687.7 118.4 716.2 95.8" stroke="#5ea4ca" stroke-width="1.21" opacity="0.70" fill="none" stroke-linecap="round"/>
<path d="M629.7 161.7 C658.2 139.1 687.7 117.3 716.2 93.2" stroke="#3680b8" stroke-width="1.65" opacity="0.95" fill="none" stroke-linecap="round"/>
<path d="M629.7 173.3 C658.2 149.0 687.7 129.0 716.2 105.3" stroke="#bfe0e6" stroke-width="2.56" opacity="0.55" fill="none" stroke-linecap="round"/>
<path d="M629.7 176.5 C658.2 153.7 687.7 131.1 716.2 108.4" stroke="#5ea4ca" stroke-width="1.13" opacity="0.82" fill="none" stroke-linecap="round"/>
<path d="M629.7 170.3 C658.2 149.3 687.7 124.7 716.2 102.2" stroke="#2a6da8" stroke-width="1.49" opacity="0.92" fill="none" stroke-linecap="round"/>
<path d="M629.7 185.1 C658.2 162.8 687.7 138.3 716.2 113.3" stroke="#bfe0e6" stroke-width="2.16" opacity="0.73" fill="none" stroke-linecap="round"/>
<path d="M629.7 185.4 C658.2 163.7 687.7 138.0 716.2 113.6" stroke="#4f98c3" stroke-width="1.54" opacity="0.52" fill="none" stroke-linecap="round"/>
<path d="M629.7 179.6 C658.2 157.8 687.7 132.1 716.2 107.8" stroke="#3680b8" stroke-width="1.73" opacity="0.94" fill="none" stroke-linecap="round"/>
<path d="M644.1 169.9 C655.7 159.2 667.7 150.8 679.3 140.7" stroke="#2a6da8" stroke-width="1.00" opacity="0.80" fill="none" stroke-linecap="round"/>
<path d="M629.7 193.6 C658.2 169.7 687.7 140.6 716.2 117.7" stroke="#c9e5ea" stroke-width="1.81" opacity="0.59" fill="none" stroke-linecap="round"/>
<path d="M671.8 156.1 C684.3 147.2 697.2 132.6 709.8 122.8" stroke="#78b8d4" stroke-width="1.10" opacity="0.75" fill="none" stroke-linecap="round"/>
<path d="M629.7 188.5 C658.2 162.7 687.7 136.7 716.2 112.6" stroke="#2b70aa" stroke-width="1.72" opacity="0.95" fill="none" stroke-linecap="round"/>
<path d="M629.7 205.2 C658.2 182.4 687.7 156.0 716.2 130.0" stroke="#5ea4ca" stroke-width="1.16" opacity="0.83" fill="none" stroke-linecap="round"/>
<path d="M629.7 197.6 C658.2 170.8 687.7 145.4 716.2 122.3" stroke="#27669f" stroke-width="1.19" opacity="0.88" fill="none" stroke-linecap="round"/>
<path d="M633.1 210.0 C644.5 200.7 656.1 192.9 667.5 181.5" stroke="#d8ecee" stroke-width="1.54" opacity="0.56" fill="none" stroke-linecap="round"/>
<path d="M629.7 208.3 C658.2 186.4 687.7 158.3 716.2 136.5" stroke="#3680b8" stroke-width="1.27" opacity="0.99" fill="none" stroke-linecap="round"/>
<path d="M634.8 221.0 C644.6 214.6 654.8 204.2 664.7 195.2" stroke="#d8ecee" stroke-width="2.02" opacity="0.60" fill="none" stroke-linecap="round"/>
<path d="M633.4 223.2 C642.3 217.7 651.4 209.7 660.3 200.1" stroke="#4f98c3" stroke-width="1.14" opacity="0.78" fill="none" stroke-linecap="round"/>
<path d="M634.0 215.6 C644.6 207.3 655.6 196.8 666.2 187.9" stroke="#2f76b0" stroke-width="1.86" opacity="0.98" fill="none" stroke-linecap="round"/>
<path d="M663.7 204.5 C673.2 194.4 682.9 187.9 692.3 179.9" stroke="#bfe0e6" stroke-width="2.15" opacity="0.67" fill="none" stroke-linecap="round"/>
<path d="M642.1 221.3 C656.7 210.9 671.7 197.5 686.2 183.3" stroke="#78b8d4" stroke-width="1.56" opacity="0.72" fill="none" stroke-linecap="round"/>
<path d="M629.7 229.0 C658.2 205.4 687.7 179.5 716.2 154.6" stroke="#2a6da8" stroke-width="1.37" opacity="0.85" fill="none" stroke-linecap="round"/>
<path d="M629.7 242.3 C658.2 216.6 687.7 189.7 716.2 165.0" stroke="#d8ecee" stroke-width="1.83" opacity="0.58" fill="none" stroke-linecap="round"/>
<path d="M664.9 207.9 C678.5 196.0 692.5 184.0 706.1 171.1" stroke="#3680b8" stroke-width="1.80" opacity="0.94" fill="none" stroke-linecap="round"/>
<path d="M629.7 248.1 C658.2 225.2 687.7 198.4 716.2 172.9" stroke="#2a6da8" stroke-width="1.69" opacity="0.89" fill="none" stroke-linecap="round"/>
<path d="M629.7 265.7 C658.2 240.3 687.7 215.2 716.2 190.8" stroke="#d8ecee" stroke-width="1.99" opacity="0.59" fill="none" stroke-linecap="round"/>
<path d="M629.7 263.9 C658.2 238.9 687.7 213.7 716.2 189.0" stroke="#78b8d4" stroke-width="1.17" opacity="0.83" fill="none" stroke-linecap="round"/>
<path d="M629.7 259.3 C658.2 234.9 687.7 210.0 716.2 184.4" stroke="#2a6da8" stroke-width="1.76" opacity="0.98" fill="none" stroke-linecap="round"/>
<path d="M667.0 242.7 C678.1 233.9 689.5 224.7 700.6 212.9" stroke="#b4dae3" stroke-width="1.96" opacity="0.80" fill="none" stroke-linecap="round"/>
<path d="M629.7 275.4 C658.2 250.0 687.7 223.8 716.2 198.5" stroke="#78b8d4" stroke-width="1.19" opacity="0.82" fill="none" stroke-linecap="round"/>
<path d="M652.2 249.9 C665.2 238.0 678.7 224.2 691.7 214.8" stroke="#3680b8" stroke-width="1.64" opacity="0.86" fill="none" stroke-linecap="round"/>
<path d="M629.7 284.4 C658.2 258.6 687.7 233.4 716.2 209.2" stroke="#bfe0e6" stroke-width="2.17" opacity="0.74" fill="none" stroke-linecap="round"/>
<path d="M629.7 280.2 C658.2 256.6 687.7 230.4 716.2 205.0" stroke="#2a6da8" stroke-width="1.53" opacity="0.91" fill="none" stroke-linecap="round"/>
<path d="M629.7 294.3 C658.2 269.9 687.7 241.0 716.2 217.9" stroke="#c9e5ea" stroke-width="2.23" opacity="0.54" fill="none" stroke-linecap="round"/>
<path d="M629.7 288.4 C658.2 262.5 687.7 238.9 716.2 212.0" stroke="#27669f" stroke-width="1.27" opacity="0.96" fill="none" stroke-linecap="round"/>
<path d="M641.1 293.1 C654.6 279.7 668.6 271.0 682.1 257.1" stroke="#d8ecee" stroke-width="2.05" opacity="0.80" fill="none" stroke-linecap="round"/>
<path d="M629.7 301.6 C658.2 277.8 687.7 250.7 716.2 225.9" stroke="#78b8d4" stroke-width="1.06" opacity="0.56" fill="none" stroke-linecap="round"/>
<path d="M629.7 297.2 C658.2 273.9 687.7 245.3 716.2 221.5" stroke="#2b70aa" stroke-width="1.67" opacity="0.88" fill="none" stroke-linecap="round"/>
<path d="M629.7 312.8 C658.2 286.1 687.7 262.2 716.2 238.4" stroke="#c9e5ea" stroke-width="2.27" opacity="0.69" fill="none" stroke-linecap="round"/>
<path d="M635.4 301.5 C644.0 295.1 652.8 285.2 661.3 279.3" stroke="#3680b8" stroke-width="1.58" opacity="0.98" fill="none" stroke-linecap="round"/>
<path d="M630.9 321.6 C647.0 306.4 663.5 290.3 679.6 278.1" stroke="#d8ecee" stroke-width="1.51" opacity="0.46" fill="none" stroke-linecap="round"/>
<path d="M629.7 322.3 C658.2 296.7 687.7 270.7 716.2 245.1" stroke="#6bafd0" stroke-width="1.14" opacity="0.54" fill="none" stroke-linecap="round"/>
<path d="M629.7 317.4 C658.2 293.2 687.7 265.4 716.2 240.2" stroke="#27669f" stroke-width="1.54" opacity="0.98" fill="none" stroke-linecap="round"/>
<path d="M629.7 332.7 C658.2 309.8 687.7 281.4 716.2 257.9" stroke="#b4dae3" stroke-width="1.94" opacity="0.64" fill="none" stroke-linecap="round"/>
<path d="M629.7 332.6 C658.2 308.1 687.7 282.0 716.2 257.9" stroke="#5ea4ca" stroke-width="1.48" opacity="0.51" fill="none" stroke-linecap="round"/>
<path d="M629.7 328.1 C658.2 303.3 687.7 277.6 716.2 253.4" stroke="#2b70aa" stroke-width="1.65" opacity="0.95" fill="none" stroke-linecap="round"/>
<path d="M629.7 339.4 C658.2 313.1 687.7 286.9 716.2 260.6" stroke="#2a6da8" stroke-width="1.19" opacity="0.93" fill="none" stroke-linecap="round"/>
<path d="M634.2 337.2 C650.9 319.9 668.1 304.8 684.7 291.2" stroke="#27669f" stroke-width="1.30" opacity="0.80" fill="none" stroke-linecap="round"/>
<path d="M663.7 327.1 C672.6 320.3 681.8 310.0 690.8 303.3" stroke="#b4dae3" stroke-width="2.03" opacity="0.64" fill="none" stroke-linecap="round"/>
<path d="M629.7 351.4 C658.2 328.2 687.7 301.0 716.2 275.4" stroke="#3680b8" stroke-width="1.62" opacity="0.97" fill="none" stroke-linecap="round"/>
<path d="M642.0 342.9 C653.0 331.8 664.3 325.1 675.2 313.7" stroke="#2f76b0" stroke-width="1.14" opacity="0.80" fill="none" stroke-linecap="round"/>
<path d="M667.8 332.5 C677.3 322.7 687.2 313.2 696.7 306.8" stroke="#bfe0e6" stroke-width="2.26" opacity="0.47" fill="none" stroke-linecap="round"/>
<path d="M629.7 367.7 C658.2 341.5 687.7 314.5 716.2 290.8" stroke="#4f98c3" stroke-width="1.62" opacity="0.82" fill="none" stroke-linecap="round"/>
<path d="M629.7 361.9 C658.2 336.0 687.7 311.8 716.2 285.0" stroke="#2a6da8" stroke-width="1.85" opacity="0.86" fill="none" stroke-linecap="round"/>
<path d="M634.6 375.5 C645.0 366.9 655.8 355.7 666.3 346.8" stroke="#bfe0e6" stroke-width="2.03" opacity="0.54" fill="none" stroke-linecap="round"/>
<path d="M629.7 373.9 C658.2 347.5 687.7 322.4 716.2 295.6" stroke="#2a6da8" stroke-width="1.88" opacity="0.95" fill="none" stroke-linecap="round"/>
<path d="M629.7 387.7 C658.2 363.3 687.7 337.3 716.2 313.2" stroke="#c9e5ea" stroke-width="1.36" opacity="0.58" fill="none" stroke-linecap="round"/>
<path d="M629.7 382.6 C658.2 359.2 687.7 333.0 716.2 308.1" stroke="#2b70aa" stroke-width="1.24" opacity="0.93" fill="none" stroke-linecap="round"/>
<path d="M651.0 381.1 C662.5 369.5 674.3 360.1 685.8 350.6" stroke="#c9e5ea" stroke-width="1.38" opacity="0.58" fill="none" stroke-linecap="round"/>
<path d="M629.7 392.5 C658.2 365.6 687.7 339.9 716.2 317.1" stroke="#27669f" stroke-width="1.76" opacity="0.87" fill="none" stroke-linecap="round"/>
<path d="M651.6 389.3 C663.6 376.8 676.0 367.8 688.1 357.0" stroke="#c9e5ea" stroke-width="2.03" opacity="0.53" fill="none" stroke-linecap="round"/>
<path d="M629.7 409.0 C658.2 381.9 687.7 355.4 716.2 332.3" stroke="#78b8d4" stroke-width="1.27" opacity="0.63" fill="none" stroke-linecap="round"/>
<path d="M629.7 403.5 C658.2 377.4 687.7 349.9 716.2 326.7" stroke="#27669f" stroke-width="1.13" opacity="0.94" fill="none" stroke-linecap="round"/>
<path d="M629.7 418.3 C658.2 394.4 687.7 364.2 716.2 340.2" stroke="#bfe0e6" stroke-width="1.42" opacity="0.73" fill="none" stroke-linecap="round"/>
<path d="M629.7 411.8 C658.2 387.3 687.7 360.4 716.2 333.7" stroke="#27669f" stroke-width="1.33" opacity="0.89" fill="none" stroke-linecap="round"/>
<path d="M629.7 421.4 C658.2 397.1 687.7 371.0 716.2 345.5" stroke="#2a6da8" stroke-width="1.55" opacity="0.87" fill="none" stroke-linecap="round"/>
<path d="M649.5 417.3 C662.5 403.8 676.0 394.5 689.1 381.4" stroke="#78b8d4" stroke-width="1.49" opacity="0.84" fill="none" stroke-linecap="round"/>
<path d="M629.7 431.0 C658.2 407.1 687.7 378.0 716.2 352.6" stroke="#2a6da8" stroke-width="1.45" opacity="0.94" fill="none" stroke-linecap="round"/>
<path d="M629.7 446.8 C658.2 421.2 687.7 395.0 716.2 367.9" stroke="#bfe0e6" stroke-width="1.96" opacity="0.54" fill="none" stroke-linecap="round"/>
<path d="M629.7 449.3 C658.2 421.2 687.7 396.1 716.2 370.4" stroke="#4f98c3" stroke-width="1.48" opacity="0.66" fill="none" stroke-linecap="round"/>
<path d="M629.7 442.5 C658.2 416.4 687.7 390.4 716.2 363.6" stroke="#2f76b0" stroke-width="1.74" opacity="0.88" fill="none" stroke-linecap="round"/>
</g>
<rect x="630.7" y="83.2" width="5.6" height="286.3" fill="#1f4162"/>
<rect x="636.2" y="78.9" width="75.7" height="4.6" fill="#1f4162"/>
<path d="M714.3 82.3 L714.2 369.2" stroke="#264a6c" stroke-width="1.8" fill="none"/>
<path d="M630.7 368.9 L715.2 368.9" stroke="#274b6d" stroke-width="1.4" fill="none"/>
<path d="M64.4 61.8 C70 59.8 75 58.9 80.5 58.9 C91 58.9 97.3 64.5 97.3 73 C97.3 79.5 94 84 89.8 86.6 C96.8 88.6 101.4 94 101.4 101.8 C101.4 112 93 118.6 80 118.6 C74 118.6 69.5 117.8 65.6 116.2 L66.8 106.2 C71 107.6 75 108.2 79 108.2 C85 108.2 88.8 106 88.8 101.6 C88.8 95 84 91.2 75 91.2 L75 83.6 C82.5 83.4 85.2 79.5 85.2 75.2 C85.2 71.2 82.6 69.4 78.4 69.4 C73.5 69.4 69 70.5 65.2 73.2 Z" fill="#1f5f92" filter="url(#tb)" transform="translate(82.8 88.7) scale(0.975 0.985) translate(-82.8 -88.7)"/>
<rect x="61.6" y="142.2" width="38.6" height="11.1" fill="#1f5f92"/>
<g filter="url(#tb)" stroke="#2a5d89" stroke-width="0.22">
<text x="115.1" y="82" font-size="20.8" fill="#2a5d89" textLength="60.1" lengthAdjust="spacingAndGlyphs">CRIDO</text>
<text x="181.9" y="82" font-size="20.8" fill="#2a5d89" textLength="47.4" lengthAdjust="spacingAndGlyphs">WITH</text>
<text x="237" y="82" font-size="20.8" fill="#2a5d89" textLength="148.4" lengthAdjust="spacingAndGlyphs">HINEONDSIONG</text>
<text x="115.5" y="105.7" font-size="20.8" fill="#2a5d89" textLength="175" lengthAdjust="spacingAndGlyphs">IMPECE<tspan fill="#6493b6" stroke="#6493b6">B</tspan>STAIBITTY</text>
<text x="298.3" y="105.7" font-size="20.8" fill="#2a5d89" textLength="46.6" lengthAdjust="spacingAndGlyphs">FUNE</text>
<text x="115.4" y="129.3" font-size="20.2" fill="#2a5d89" textLength="65" lengthAdjust="spacingAndGlyphs">DBLITT</text>
<text x="187.6" y="129.3" font-size="20.2" fill="#2a5d89" textLength="124" lengthAdjust="spacingAndGlyphs">PE<tspan fill="#6493b6" stroke="#6493b6">OM</tspan>OLINVE</text>
<text x="318.8" y="129.3" font-size="20.2" fill="#2a5d89" textLength="67.5" lengthAdjust="spacingAndGlyphs">TEMENT</text>
<text x="114.2" y="153.1" font-size="20.2" fill="#2a5d89" textLength="169.5" lengthAdjust="spacingAndGlyphs">IS<tspan fill="#6493b6" stroke="#6493b6">NTE</tspan>CITION<tspan fill="#6493b6" stroke="#6493b6">_C</tspan>DY</text>
<text x="288.3" y="153.1" font-size="20.2" fill="#2a5d89" textLength="50.2" lengthAdjust="spacingAndGlyphs">20IES</text>
<text x="115" y="176.6" font-size="19" fill="#2a5d89" textLength="109.2" lengthAdjust="spacingAndGlyphs">CO<tspan fill="#6493b6" stroke="#6493b6">AIG</tspan>IGIRM</text>
</g>
<g filter="url(#tb)">
<text x="103.4" y="283.6" font-size="20.3" font-weight="700" fill="#1d3b5c" textLength="42.8" lengthAdjust="spacingAndGlyphs">115%</text>
<text x="244.3" y="241.3" font-size="20.3" font-weight="700" fill="#1d3b5c" textLength="46.6" lengthAdjust="spacingAndGlyphs">212%</text>
<text x="393.7" y="187.5" font-size="20.3" font-weight="700" fill="#1d3b5c" textLength="24.3" lengthAdjust="spacingAndGlyphs">5%</text>
<text x="521.6" y="113" font-size="20.3" font-weight="700" fill="#1d3b5c" textLength="33.6" lengthAdjust="spacingAndGlyphs">15%</text>
<text x="642.5" y="54.5" font-size="20.3" font-weight="700" fill="#1d3b5c" textLength="49" lengthAdjust="spacingAndGlyphs">100%</text>
<text x="68.2" y="403.4" font-size="17.8" fill="#2b4a66" stroke="#2b4a66" stroke-width="0.3" textLength="41" lengthAdjust="spacingAndGlyphs">OUIC</text>
<text x="113.5" y="403.4" font-size="17.8" fill="#2b4a66" stroke="#2b4a66" stroke-width="0.3" textLength="58.2" lengthAdjust="spacingAndGlyphs">DYNEIS</text>
<text x="222.8" y="403.4" font-size="17.8" fill="#2b4a66" stroke="#2b4a66" stroke-width="0.3" textLength="63.3" lengthAdjust="spacingAndGlyphs">STOWT</text>
<text x="287.6" y="403.4" font-size="17.8" fill="#2b4a66" stroke="#2b4a66" stroke-width="0.3" textLength="29" lengthAdjust="spacingAndGlyphs">.GF</text>
<text x="361.9" y="403.4" font-size="17.8" fill="#2b4a66" stroke="#2b4a66" stroke-width="0.3" textLength="91.6" lengthAdjust="spacingAndGlyphs">GROWTOF</text>
<text x="517" y="403.4" font-size="17.8" fill="#2b4a66" stroke="#2b4a66" stroke-width="0.3" textLength="48" lengthAdjust="spacingAndGlyphs">HORE</text>
<text x="621.3" y="403.4" font-size="17.8" fill="#2b4a66" stroke="#2b4a66" stroke-width="0.3" textLength="100" lengthAdjust="spacingAndGlyphs">SNGYTIRER</text>
</g>
</svg></body></html>
